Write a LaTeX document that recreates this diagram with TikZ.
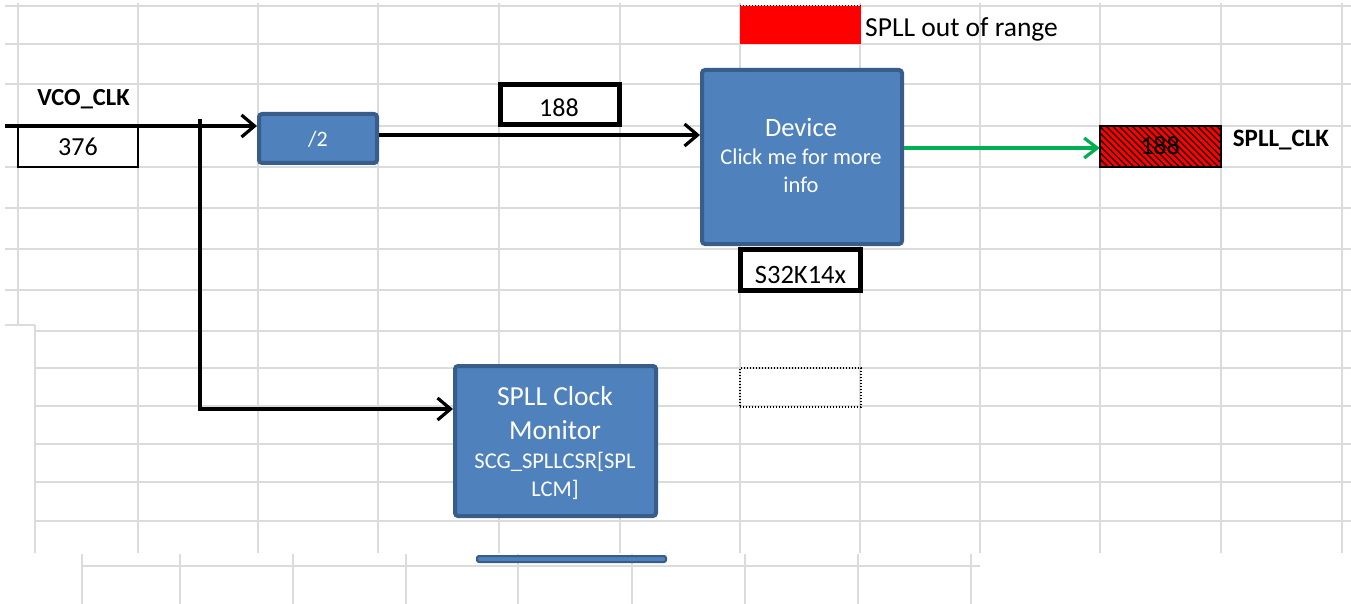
\documentclass[tikz,border=0pt]{standalone}
\usepackage{fontspec}
\setmainfont{Carlito}
\usetikzlibrary{arrows.meta}
\definecolor{gridc}{RGB}{217,219,220}
\definecolor{boxblue}{RGB}{79,129,189}
\definecolor{boxedge}{RGB}{56,93,138}
\definecolor{xlgreen}{RGB}{0,176,80}
\newcommand\myfs[1]{\fontsize{#1}{#1}\selectfont}
\tikzset{
  gridline/.style={draw=gridc, line width=1.5pt},
  bluebox/.style={draw=boxedge, fill=boxblue, line width=4pt, rounded corners=3pt, inner sep=0pt},
  valbox/.style={draw=black, fill=white, inner sep=0pt},
  txt/.style={inner sep=0pt, anchor=base},
  wtxt/.style={txt, text=white},
  conn/.style={draw=black, line width=3.2pt, -{Straight Barb[length=13pt,width=22pt]}},
  gconn/.style={draw=xlgreen, line width=3.2pt, -{Straight Barb[length=13pt,width=20pt]}},
  dotline/.style={draw=black, line width=1.3pt, dash pattern=on 1.3pt off 1.7pt},
}
\begin{document}
\begin{tikzpicture}[x=1pt,y=-1pt]
\useasboundingbox (0,0) rectangle (1351,604);
\fill[white] (0,0) rectangle (1351,604);
% ---- spreadsheet grid ----
\foreach \yy in {6,44,84,126,167,208,249,290} \draw[gridline] (5,\yy) -- (1351,\yy);
\draw[gridline] (5,325) -- (35,325);
\foreach \yy in {331,368,406,444,482,521} \draw[gridline] (35,\yy) -- (1351,\yy);
\draw[gridline] (18,3) -- (18,325);
\draw[gridline] (35,325) -- (35,553);
\foreach \xx in {138,258,378,499,620,740,860,980,1100,1221,1342} \draw[gridline] (\xx,3) -- (\xx,553);
\draw[gridline] (82,566) -- (980,566);
\foreach \xx in {82,180,293,406,518,632,745,858,971} \draw[gridline] (\xx,554) -- (\xx,604);
% ---- value cells ----
\node[valbox, line width=1.5pt, minimum width=120pt, minimum height=41pt] (vco) at (78,146.5) {};
\node[txt, font=\myfs{26}] (vcoT) at (78,156) {376};
\node[txt, font=\bfseries\myfs{24.5}] (vcoL) at (83.5,106) {VCO\_CLK};
\node[valbox, line width=4.5pt, minimum width=119pt, minimum height=40pt] (half) at (560,104.5) {};
\node[txt, font=\myfs{26}] (halfT) at (559,117) {188};
\node[valbox, line width=4.5pt, minimum width=120pt, minimum height=41pt] (dev32) at (800.5,270) {};
\node[txt, font=\myfs{26.5}] (dev32T) at (800.5,283) {S32K14x};
% out of range flag
\node[fill=red, inner sep=0pt, minimum width=121pt, minimum height=38pt] (oor) at (800.5,25) {};
\draw[dotline] (oor.north west) -- (oor.north east);
\node[txt, anchor=base west, font=\myfs{27.5}] (oorT) at (865,36.5) {SPLL out of range};
% hatched output cell
\node[fill=red, inner sep=0pt, minimum width=121pt, minimum height=41pt] (spll) at (1160.5,146.5) {};
\node[txt, font=\myfs{26}] (spllT) at (1160,155) {188};
\begin{scope}
  \clip (spll.north west) rectangle (spll.south east);
  \foreach \xx in {1054,1060.5,...,1226} \draw[black, line width=1.3pt] (\xx,126) -- (\xx+41,167);
\end{scope}
\draw[black, line width=1.5pt] (spll.north west) rectangle (spll.south east);
\node[txt, font=\bfseries\myfs{25}] (spllL) at (1281,147) {SPLL\_CLK};
% selection cell
\node[dotline, inner sep=0pt, minimum width=121pt, minimum height=39pt] (sel) at (800.5,387.5) {};
% ---- blue shapes ----
\node[bluebox, minimum width=118pt, minimum height=49pt] (div) at (318,138.5) {};
\node[wtxt, font=\myfs{22}] (divT) at (318,147) {/2};
\node[bluebox, minimum width=200pt, minimum height=174pt] (dev) at (802,157) {};
\node[wtxt, font=\myfs{26.5}] (devT1) at (801,137) {Device};
\node[wtxt, font=\myfs{22.5}] (devT2) at (801,165) {Click me for more};
\node[wtxt, font=\myfs{22.5}] (devT3) at (801,193) {info};
\node[bluebox, minimum width=201pt, minimum height=150pt] (mon) at (555.5,441) {};
\node[wtxt, font=\myfs{27.5}] (monT1) at (555,405) {SPLL Clock};
\node[wtxt, font=\myfs{27.5}] (monT2) at (555,439) {Monitor};
\node[wtxt, font=\myfs{22.5}] (monT3) at (555,468) {SCG\_SPLLCSR[SPL};
\node[wtxt, font=\myfs{22.5}] (monT4) at (555,496) {LCM]};
\node[bluebox, line width=2pt, rounded corners=2pt, minimum width=189pt, minimum height=6pt] (bar) at (571.5,559) {};
% ---- connectors ----
\coordinate (vin) at (5,126);
\coordinate (br) at (200,119);
\draw[conn] (vin) -- (vin -| div.west);
\draw[conn] (br) |- (mon.west |- 0,409);
\draw[conn] (div.east |- 0,135) -- (dev.west |- 0,135);
\draw[gconn] (dev.east |- 0,148) -- (spll.west |- 0,148);
\end{tikzpicture}
\end{document}
